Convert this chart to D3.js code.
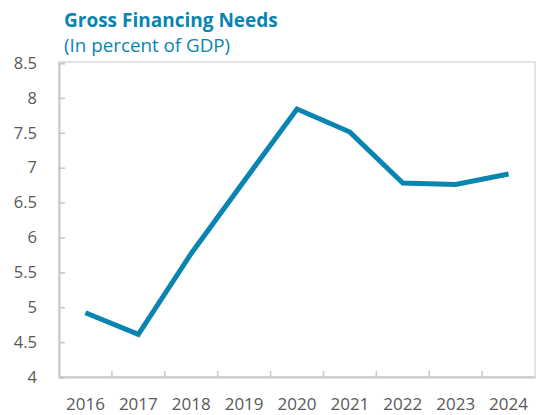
<!DOCTYPE html>
<html><head><meta charset="utf-8">
<script src="https://cdn.jsdelivr.net/npm/d3@7"></script>
<style>body{margin:0;background:#fff}svg{display:block}</style>
</head><body>
<script>
const years = ["2016","2017","2018","2019","2020","2021","2022","2023","2024"];
const values = [4.92, 4.61, 5.77, 6.81, 7.84, 7.51, 6.78, 6.76, 6.91];
const yTicks = [4, 4.5, 5, 5.5, 6, 6.5, 7, 7.5, 8, 8.5];
const title = "Gross Financing Needs";
const subtitle = "(In percent of GDP)";

const W = 537, H = 415;
const m = {left: 59, right: 2, top: 63, bottom: 38};
const svg = d3.select("body").append("svg").attr("width", W).attr("height", H);
const font = "'Open Sans', sans-serif";
const blue = "#0a84b0", axisCol = "#c8c8c8", txt = "#595959";

const x = d3.scaleBand().domain(years).range([m.left, W - m.right]);
const y = d3.scaleLinear().domain([4, 8.5]).range([H - m.bottom, m.top]);

svg.append("text").attr("x", 64).attr("y", 27).attr("fill", blue)
  .attr("font-family", font).attr("font-weight", "bold").attr("font-size", 19)
  .text(title);
svg.append("text").attr("x", 64).attr("y", 52).attr("fill", blue)
  .attr("font-family", font).attr("font-size", 18.8).text(subtitle);

// frame
svg.append("rect").attr("x", m.left).attr("y", m.top - 1)
  .attr("width", W - m.right - m.left).attr("height", H - m.bottom - m.top + 1)
  .attr("fill", "none").attr("stroke", axisCol).attr("stroke-width", 1);

// y axis
const ya = svg.append("g").attr("transform", `translate(${m.left},0)`)
  .call(d3.axisLeft(y).tickValues(yTicks).tickSize(-6).tickPadding(22).tickFormat(d3.format("")));
ya.select(".domain").attr("stroke", axisCol).attr("stroke-width", 2);
ya.selectAll(".tick line").attr("stroke", axisCol).attr("stroke-width", 1.5);
ya.selectAll(".tick text").attr("fill", txt).attr("font-family", font).attr("font-size", 16.5);

// x axis
const xa = svg.append("g").attr("transform", `translate(0,${H - m.bottom})`)
  .call(d3.axisBottom(x).tickSize(0).tickPadding(21));
xa.select(".domain").attr("stroke", axisCol).attr("stroke-width", 2);
xa.selectAll(".tick text").attr("fill", txt).attr("font-family", font).attr("font-size", 17);
// boundary ticks
svg.append("g").selectAll("line").data(years.slice(1)).join("line")
  .attr("x1", d => x(d)).attr("x2", d => x(d))
  .attr("y1", H - m.bottom).attr("y2", H - m.bottom - 6)
  .attr("stroke", axisCol).attr("stroke-width", 1.5);

svg.append("path").datum(values)
  .attr("d", d3.line().x((d, i) => x(years[i]) + x.bandwidth() / 2).y(d => y(d)))
  .attr("fill", "none").attr("stroke", blue).attr("stroke-width", 5)
  .attr("stroke-linejoin", "miter");
</script>
</body></html>
